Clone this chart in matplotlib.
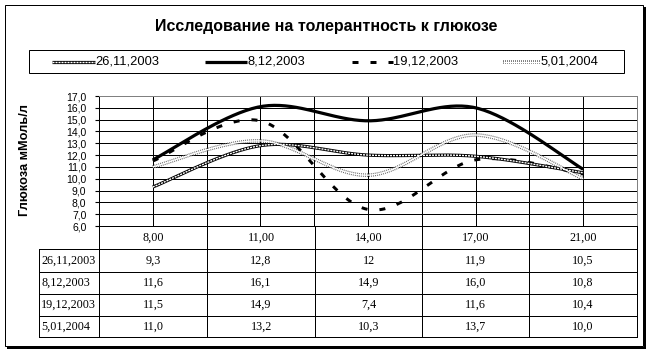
import numpy as np
import matplotlib
matplotlib.use("Agg")
import matplotlib.pyplot as plt
from matplotlib.patches import Rectangle

plt.rcParams['font.family'] = ['Liberation Sans', 'DejaVu Sans']
plt.rcParams['lines.scale_dashes'] = False

title = "Исследование на толерантность к глюкозе"
ylabel = "Глюкоза мМоль/л"
times = ["8,00", "11,00", "14,00", "17,00", "21,00"]
series_names = ["26,11,2003", "8,12,2003", "19,12,2003", "5,01,2004"]
s_26_11_2003 = [9.3, 12.8, 12.0, 11.9, 10.5]
s_8_12_2003 = [11.6, 16.1, 14.9, 16.0, 10.8]
s_19_12_2003 = [11.5, 14.9, 7.4, 11.6, 10.4]
s_5_01_2004 = [11.0, 13.2, 10.3, 13.7, 10.0]
table_text = [
    ["9,3", "12,8", "12", "11,9", "10,5"],
    ["11,6", "16,1", "14,9", "16,0", "10,8"],
    ["11,5", "14,9", "7,4", "11,6", "10,4"],
    ["11,0", "13,2", "10,3", "13,7", "10,0"],
]
series = [s_26_11_2003, s_8_12_2003, s_19_12_2003, s_5_01_2004]

W, H = 653, 354
PX = 0.72  # points per pixel at dpi 100


def excel_smooth(y, n=40):
    pts = np.column_stack([np.arange(len(y), dtype=float), np.asarray(y, float)])
    out = []
    m = len(pts)
    for i in range(m - 1):
        p0 = pts[i - 1] if i > 0 else pts[i]
        p1 = pts[i]
        p2 = pts[i + 1]
        p3 = pts[i + 2] if i + 2 < m else pts[i + 1]
        c1 = p1 + (p2 - p0) / 6.0
        c2 = p2 - (p3 - p1) / 6.0
        t = np.linspace(0, 1, n)[:, None]
        seg = ((1 - t) ** 3) * p1 + 3 * ((1 - t) ** 2) * t * c1 + 3 * (1 - t) * t ** 2 * c2 + t ** 3 * p2
        if i > 0:
            seg = seg[1:]
        out.append(seg)
    out = np.vstack(out)
    return out[:, 0], out[:, 1]


def draw_style(ax, x, y, idx):
    if idx == 0:
        ax.plot(x, y, color='black', lw=3.2 * PX, solid_capstyle='butt', zorder=5)
        ax.plot(x, y, color='white', lw=1.4 * PX, dashes=(2 * PX, 1 * PX), zorder=6)
    elif idx == 1:
        ax.plot(x, y, color='black', lw=3.2 * PX, solid_capstyle='butt', zorder=5)
    elif idx == 2:
        ax.plot(x, y, color='black', lw=3 * PX, dashes=(6 * PX, 12 * PX), dash_capstyle='butt', zorder=5)
    else:
        ax.plot(x, y, color='#6a6a6a', lw=3.6 * PX, dashes=(1 * PX, 1 * PX), zorder=4)
        ax.plot(x, y, color='white', lw=1.3 * PX, solid_capstyle='butt', zorder=5)


fig = plt.figure(figsize=(W / 100, H / 100), dpi=100)

# plot area in pixels
L, R, T, B = 99, 637, 96, 226
ax = fig.add_axes([L / W, 1 - B / H, (R - L) / W, (B - T) / H])
ax.set_xlim(-0.5, 4.5)
ax.set_ylim(6, 17)
ax.set_yticks(np.arange(6, 17.5, 1))
ax.set_yticklabels([f"{v:.1f}".replace('.', ',') for v in np.arange(6, 17.5, 1)], fontsize=7.5)
ax.tick_params(axis='y', direction='out', length=3, width=0.8, pad=6, colors='black')
ax.set_xticks([])
for v in np.arange(7, 17, 1):
    ax.axhline(v, color='black', lw=1 * PX, zorder=1)
for xv in np.arange(0, 4.6, 0.5):
    ax.axvline(xv, color='black', lw=1 * PX, zorder=1)
ax.axhline(17, color='#808080', lw=1 * PX, zorder=1)
for sp in ['top', 'right']:
    ax.spines[sp].set_color('#808080')
    ax.spines[sp].set_linewidth(1 * PX)
for sp in ['left', 'bottom']:
    ax.spines[sp].set_color('black')
    ax.spines[sp].set_linewidth(1 * PX)

for i, s in enumerate(series):
    xs, ys = excel_smooth(s)
    draw_style(ax, xs, ys, i)

# overlay in pixel coordinates
ov = fig.add_axes([0, 0, 1, 1], zorder=10)
ov.set_xlim(0, W)
ov.set_ylim(H, 0)
ov.axis('off')
ov.patch.set_alpha(0)

# outer frame with shadow
ov.add_patch(Rectangle((5, 5), 638, 341, fill=False, ec='black', lw=1 * PX))
ov.plot([645, 645], [8, 348], color='black', lw=2 * PX)
ov.plot([8, 645], [348, 348], color='black', lw=2 * PX)

# title
ov.text(326.5, 26, title, ha='center', va='center', fontsize=11.5, fontweight='bold')

# legend
ov.add_patch(Rectangle((29, 50), 595, 23, fill=False, ec='black', lw=1 * PX))
sample_x = [(52, 95), (205, 247), (352, 393), (503, 540)]
for i, (x0, x1) in enumerate(sample_x):
    draw_style(ov, [x0, x1], [62, 62], i)
    ov.text(x1 + 0.5, 62, series_names[i], ha='left', va='center', fontsize=9.3)

# y label
ov.text(25, 160, ylabel, rotation=90, ha='center', va='center', fontsize=9.2, fontweight='bold')

# data table
col_edges = [99, 207, 315, 422, 529, 637]
row_edges = [226, 249, 272, 294, 316, 337]
tlw = 1 * PX
tfont = ['Liberation Serif', 'DejaVu Serif']
for xe in col_edges:
    ov.plot([xe, xe], [226, 337], color='black', lw=tlw)
for ye in row_edges[1:]:
    ov.plot([39, 637], [ye, ye], color='black', lw=tlw)
ov.plot([39, 39], [249, 337], color='black', lw=tlw)
for j, t in enumerate(times):
    cx = (col_edges[j] + col_edges[j + 1]) / 2
    ov.text(cx, 237.5, t, ha='center', va='center', fontsize=8.7, family=tfont)
for i, name in enumerate(series_names):
    cy = (row_edges[i + 1] + row_edges[i + 2]) / 2
    ov.text(41, cy, name, ha='left', va='center', fontsize=8.7, family=tfont)
    for j in range(5):
        cx = (col_edges[j] + col_edges[j + 1]) / 2
        ov.text(cx, cy, table_text[i][j], ha='center', va='center', fontsize=8.7, family=tfont)

fig.savefig('out.png', dpi=100, facecolor='white')
